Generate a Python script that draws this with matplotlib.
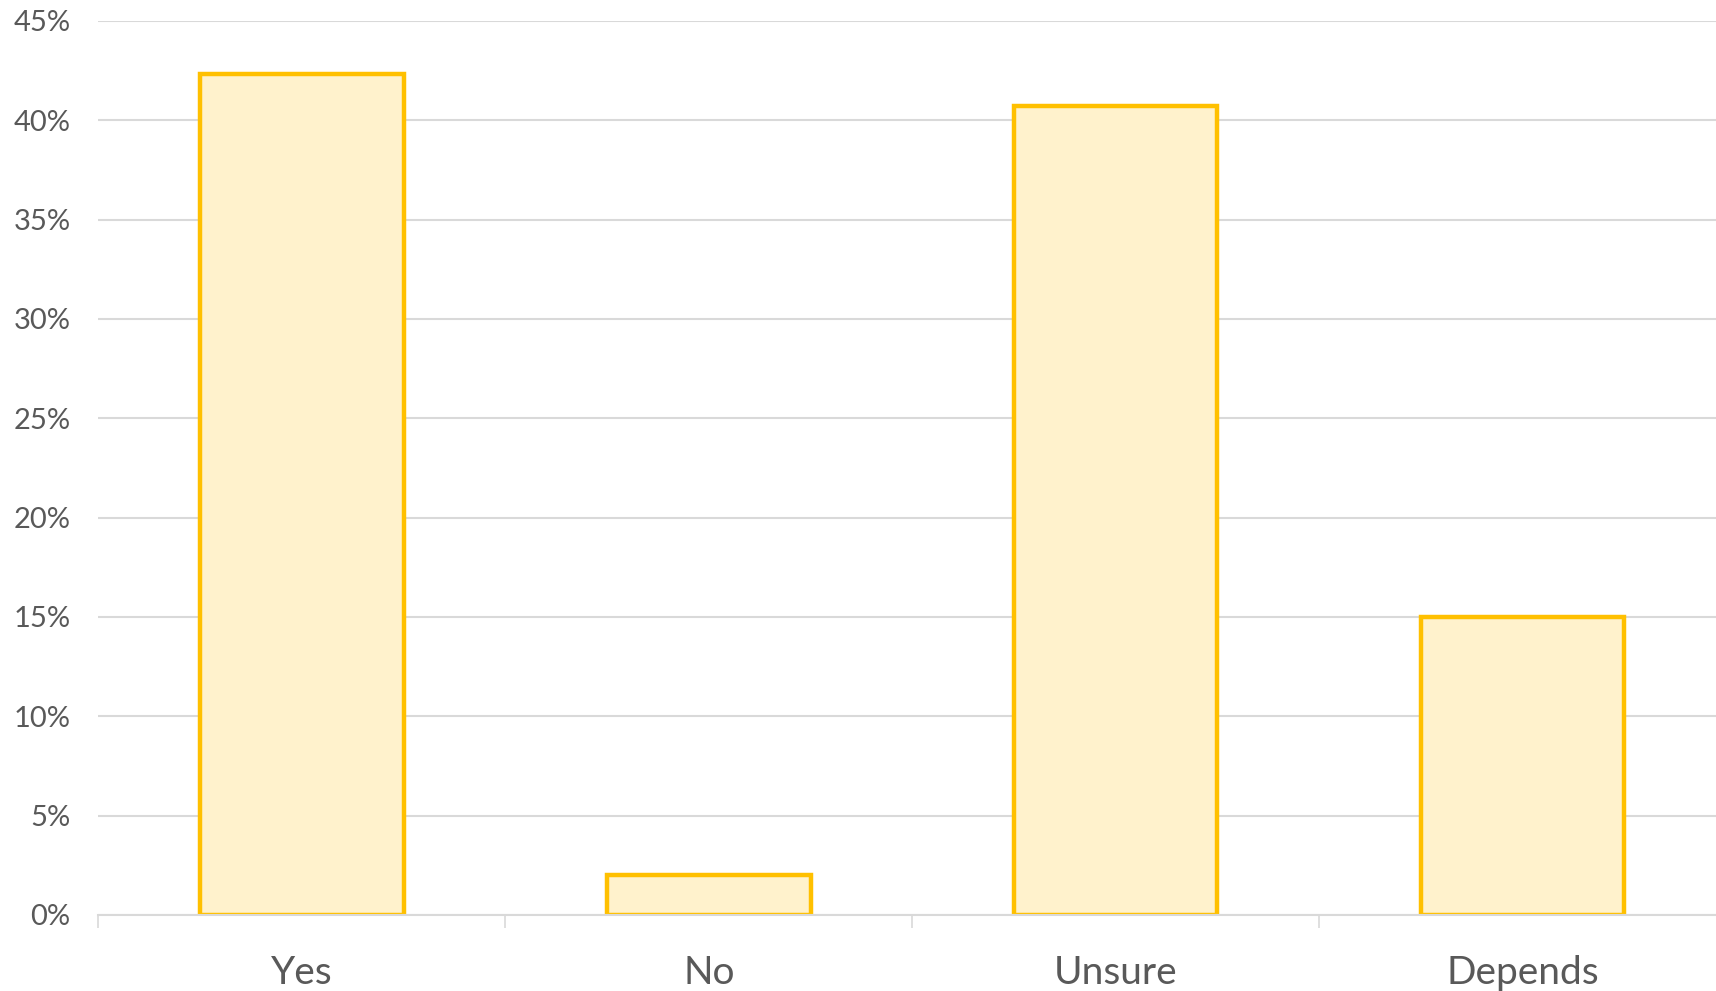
import matplotlib.pyplot as plt
import numpy as np

# survey answers, share of respondents (%)
answers = ['Yes', 'No', 'Unsure', 'Depends']
share = [42.3, 2.0, 40.7, 15.0]
yticks = [0, 5, 10, 15, 20, 25, 30, 35, 40, 45]

plt.rcParams['font.family'] = ['Lato', 'DejaVu Sans']

fig = plt.figure(figsize=(17.16, 9.91), dpi=100)
# plot area runs a bit past the right edge of the picture
ax = fig.add_axes([0.0574, 0.0767, 0.9484, 0.9023])

x = np.arange(len(answers))
ax.bar(x, share, width=0.5, color='#FFF2CC', edgecolor='#FFC000', linewidth=3.2, zorder=3)

ax.set_xlim(-0.5, 3.5)
ax.set_ylim(0, 45)
ax.set_yticks(yticks)
ax.set_yticklabels([f'{v}%' for v in yticks], fontsize=21, color='#595959')
ax.tick_params(axis='y', length=0, pad=20)
ax.yaxis.grid(True, color='#D9D9D9', linewidth=1.5, zorder=0)

# category boundary ticks, labels in the middle
ax.set_xticks(np.arange(-0.5, 3.6, 1.0))
ax.set_xticklabels([])
ax.tick_params(axis='x', which='major', length=9, width=1.2, color='#D9D9D9')
ax.set_xticks(x, minor=True)
ax.set_xticklabels(answers, minor=True, fontsize=28, color='#595959')
ax.tick_params(axis='x', which='minor', length=0, pad=29)

for s in ['top', 'right', 'left']:
    ax.spines[s].set_visible(False)
ax.spines['bottom'].set_color('#D9D9D9')
ax.spines['bottom'].set_linewidth(1.5)
ax.spines['bottom'].set_zorder(4)

fig.savefig('out.png', dpi=100)
